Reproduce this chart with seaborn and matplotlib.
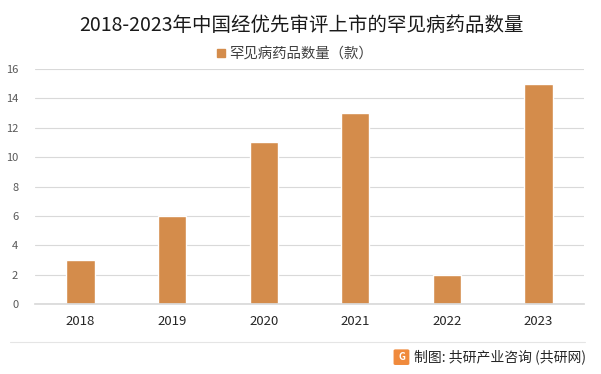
import pandas as pd
import matplotlib.pyplot as plt
import matplotlib.patches as mpatches
import seaborn as sns

years = ["2018", "2019", "2020", "2021", "2022", "2023"]
counts = [3, 6, 11, 13, 2, 15]
series_name = "罕见病药品数量（款）"
title = "2018-2023年中国经优先审评上市的罕见病药品数量"
source = "制图: 共研产业咨询 (共研网)"
bar_color = "#D48C4B"

sns.set_theme(style="white")
plt.rcParams["font.family"] = ["Noto Sans CJK SC", "DejaVu Sans"]

df = pd.DataFrame({"year": years, "count": counts})

fig = plt.figure(figsize=(6.01, 3.74), dpi=100)
ax = fig.add_axes([0.058, 0.187, 0.914, 0.6285])

sns.barplot(data=df, x="year", y="count", color=bar_color, width=0.31,
            saturation=1, ax=ax)

ax.set_ylim(0, 16)
ax.set_yticks(range(0, 17, 2))
ax.set_xlim(-0.5, 5.5)
ax.yaxis.grid(True, color="#D9D9D9", linewidth=0.8)
ax.set_axisbelow(True)
for s in ["top", "right", "left"]:
    ax.spines[s].set_visible(False)
ax.spines["bottom"].set_color("#D9D9D9")
ax.set_xlabel("")
ax.set_ylabel("")
ax.tick_params(axis="y", labelsize=8, labelcolor="#595959", length=0, pad=12)
ax.tick_params(axis="x", labelsize=9.5, labelcolor="#262626", length=0, pad=8)

fig.text(0.501, 0.933, title, ha="center", va="center", fontsize=14, color="#1a1a1a")

handle = mpatches.Patch(color=bar_color)
fig.legend([handle], [series_name], loc="center", bbox_to_anchor=(0.491, 0.855),
           frameon=False, fontsize=10.4, handlelength=0.55, handleheight=0.55,
           handletextpad=0.3, labelcolor="#404040")

# separator line and source footer
fig.add_artist(plt.Line2D([0.017, 0.973], [0.086, 0.086], color="#E5E5E5", linewidth=0.8))
fig.text(0.975, 0.045, source, ha="right", va="center", fontsize=10, color="#262626")
fig.add_artist(mpatches.FancyBboxPatch((0.658, 0.028), 0.02, 0.034,
                                       boxstyle="round,pad=0.002", color="#F08A3C",
                                       transform=fig.transFigure))
fig.text(0.668, 0.045, "G", ha="center", va="center", fontsize=7, color="white",
         fontweight="bold")

fig.savefig("out.png", dpi=100)
